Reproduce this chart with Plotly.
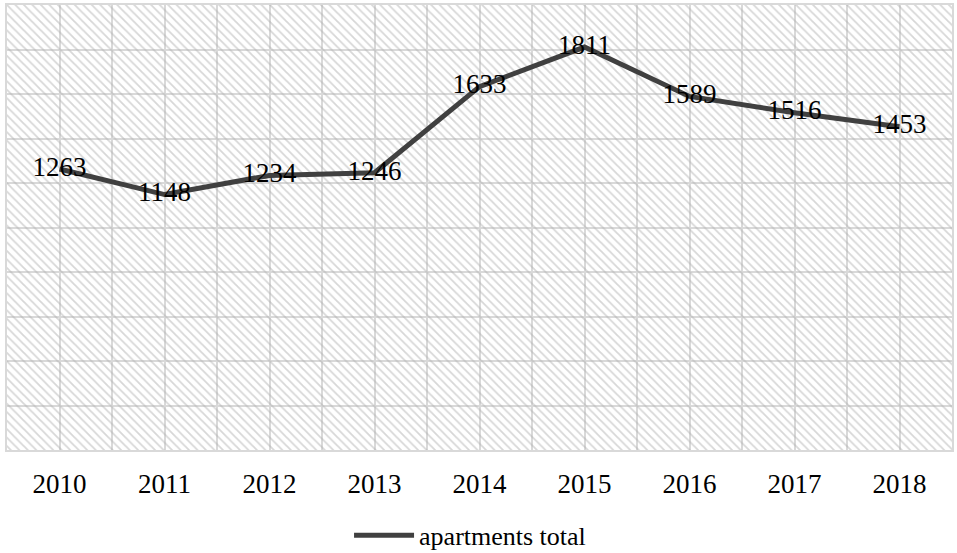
import plotly.graph_objects as go

# Apartments completed per year
years = [2010, 2011, 2012, 2013, 2014, 2015, 2016, 2017, 2018]
apartments_total = [1263, 1148, 1234, 1246, 1633, 1811, 1589, 1516, 1453]
series_name = "apartments total"

y_max = 2000
serif = "Liberation Serif, Times New Roman, serif"
grid = "#d9d9d9"

fig = go.Figure()

# Hatched backdrop spanning the full plot area
fig.add_trace(go.Bar(
    x=[(years[0] + years[-1]) / 2],
    y=[y_max],
    width=[len(years)],
    marker=dict(
        color="rgba(0,0,0,0)",
        line=dict(width=0),
        pattern=dict(shape="\\", fillmode="overlay", fgcolor="#b0b0b0",
                     size=6, solidity=0.3),
    ),
    showlegend=False,
    hoverinfo="skip",
))

fig.add_trace(go.Scatter(
    x=years,
    y=apartments_total,
    mode="lines+text",
    name=series_name,
    line=dict(color="#404040", width=5),
    text=[str(v) for v in apartments_total],
    textposition="middle center",
    textfont=dict(family=serif, size=27, color="#000000"),
))

fig.update_layout(
    width=957,
    height=553,
    margin=dict(l=7, r=5, t=5, b=103, autoexpand=False),
    paper_bgcolor="white",
    plot_bgcolor="white",
    font=dict(family=serif, size=26, color="#000000"),
    bargap=0,
    showlegend=True,
    legend=dict(orientation="h", x=0.49, xanchor="center", y=-0.192,
                yanchor="middle", font=dict(family=serif, size=26),
                itemwidth=60),
)

fig.update_xaxes(
    range=[years[0] - 0.5, years[-1] + 0.5],
    tickmode="array",
    tickvals=years,
    ticktext=[str(y) for y in years],
    tickfont=dict(family=serif, size=27),
    ticklabelstandoff=9,
    showgrid=True,
    gridcolor=grid,
    gridwidth=1.5,
    minor=dict(tick0=years[0] - 0.5, dtick=1, showgrid=True,
               gridcolor=grid, gridwidth=1.5),
    showline=True, linecolor=grid, linewidth=2, mirror=True,
    zeroline=False,
    ticks="",
)

fig.update_yaxes(
    range=[0, y_max],
    dtick=200,
    showticklabels=False,
    showgrid=True,
    gridcolor=grid,
    gridwidth=1.5,
    showline=True, linecolor=grid, linewidth=2, mirror=True,
    zeroline=False,
    ticks="",
)

fig.write_html("out.html")
